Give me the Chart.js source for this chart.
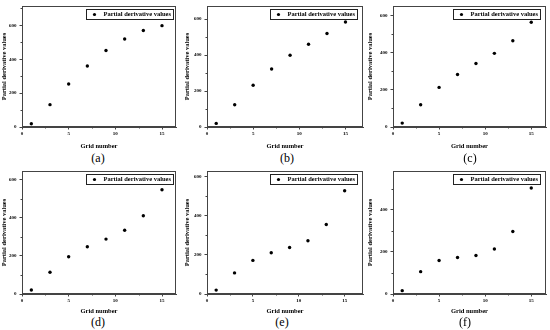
<!DOCTYPE html>
<html>
<head>
<meta charset="utf-8">
<script src="https://cdn.jsdelivr.net/npm/chart.js@4.4.0/dist/chart.umd.min.js"></script>
<style>
  body { margin: 0; background: #fff; }
  #wrap { position: relative; width: 550px; height: 330px; overflow: hidden; }
  canvas { position: absolute; }
  .cap { position: absolute; width: 40px; margin-left: -20px; text-align: center;
         font-family: "Liberation Serif", serif; font-size: 12px; line-height: 12px; color: #000; }
</style>
</head>
<body>
<div id="wrap"></div>
<script>
// Data
const gridNumbers = [1, 3, 5, 7, 9, 11, 13, 15];
const valuesA = [19, 132, 254, 360, 451, 519, 569, 598];
const valuesB = [20, 124, 232, 323, 399, 460, 520, 584];
const valuesC = [21, 120, 214, 284, 343, 398, 466, 566];
const valuesD = [21, 114, 195, 248, 288, 334, 410, 547];
const valuesE = [20, 108, 172, 211, 238, 273, 356, 529];
const valuesF = [16, 106, 159, 173, 183, 214, 297, 503];
const xTickValues = [0, 5, 10, 15];
const yTickValues = [0, 200, 400, 600];
const yTickValuesF = [0, 200, 400];
const captions = ['(a)', '(b)', '(c)', '(d)', '(e)', '(f)'];
const seriesLabel = 'Partial derivative values';
const xTitle = 'Grid number';
const yTitle = 'Partial derivative values';

// Panel layout (canvas placement and axis ranges)
const panels = [
    { data: valuesA, yTicks: yTickValues,  left: 0,   top: 0,   width: 180, yAxisW: 22, right: 176, xMax: 16.5, yMax: 714, legGap: 3, capX: 98,  capY: 152 },
    { data: valuesB, yTicks: yTickValues,  left: 183, top: 0,   width: 184, yAxisW: 24, right: 182, xMax: 16.9, yMax: 673, legGap: 6, capX: 287, capY: 152 },
    { data: valuesC, yTicks: yTickValues,  left: 366, top: 0,   width: 184, yAxisW: 27, right: 182, xMax: 16.6, yMax: 654, legGap: 6, capX: 470, capY: 152 },
    { data: valuesD, yTicks: yTickValues,  left: 0,   top: 165, width: 180, yAxisW: 22, right: 176, xMax: 16.5, yMax: 645, legGap: 3, capX: 98,  capY: 316 },
    { data: valuesE, yTicks: yTickValues,  left: 183, top: 165, width: 184, yAxisW: 24, right: 181, xMax: 17.0, yMax: 630, legGap: 6, capX: 282, capY: 316 },
    { data: valuesF, yTicks: yTickValuesF, left: 366, top: 165, width: 184, yAxisW: 27, right: 182, xMax: 16.6, yMax: 584, legGap: 6, capX: 465, capY: 316 }
];

const axisColor = '#444';
const serif = '"Liberation Serif", "Times New Roman", serif';

// Frame around the plot, minor ticks and the boxed legend in the top right corner
const framePlugin = {
    id: 'frame',
    afterDraw(chart, args, opts) {
        const ctx = chart.ctx;
        const a = chart.chartArea;
        ctx.save();
        ctx.strokeStyle = axisColor;
        ctx.lineWidth = 1;
        ctx.strokeRect(a.left + 0.5, a.top + 0.5, a.right - a.left - 1, a.bottom - a.top - 1);

        // minor ticks
        const xs = chart.scales.x, ys = chart.scales.y;
        ctx.beginPath();
        for (let v = 2.5; v < xs.max; v += 5) {
            const px = Math.round(xs.getPixelForValue(v)) + 0.5;
            ctx.moveTo(px, a.bottom);
            ctx.lineTo(px, a.bottom + 1.5);
        }
        for (let v = 100; v < ys.max; v += 200) {
            const py = Math.round(ys.getPixelForValue(v)) + 0.5;
            ctx.moveTo(a.left, py);
            ctx.lineTo(a.left - 1.5, py);
        }
        ctx.stroke();

        // legend
        const ds = chart.data.datasets[0];
        ctx.font = 'bold 6.5px ' + serif;
        const tw = ctx.measureText(ds.label).width;
        const boxRight = a.right - opts.gap;
        const boxTop = a.top + 3;
        const boxH = 10;
        const textLeft = boxRight - 2 - tw;
        const dotX = textLeft - 9;
        const boxLeft = dotX - 8;
        ctx.strokeStyle = '#222';
        ctx.lineWidth = 1;
        ctx.strokeRect(Math.round(boxLeft) + 0.5, boxTop + 0.5, Math.round(boxRight - boxLeft), boxH);
        ctx.fillStyle = '#000';
        ctx.beginPath();
        ctx.arc(dotX, boxTop + boxH / 2 + 0.5, 1.6, 0, Math.PI * 2);
        ctx.fill();
        ctx.textBaseline = 'middle';
        ctx.fillText(ds.label, textLeft, boxTop + boxH / 2 + 0.8);
        ctx.restore();
    }
};

const wrap = document.getElementById('wrap');

panels.forEach((p, i) => {
    const canvas = document.createElement('canvas');
    canvas.width = p.width;
    canvas.height = 150;
    canvas.style.left = p.left + 'px';
    canvas.style.top = p.top + 'px';
    wrap.appendChild(canvas);

    const cap = document.createElement('div');
    cap.className = 'cap';
    cap.textContent = captions[i];
    cap.style.left = p.capX + 'px';
    cap.style.top = p.capY + 'px';
    wrap.appendChild(cap);

    const xAxisH = p.top === 0 ? 23 : 21;

    new Chart(canvas, {
        type: 'scatter',
        data: {
            datasets: [{
                label: seriesLabel,
                data: gridNumbers.map((x, k) => ({ x: x, y: p.data[k] })),
                backgroundColor: '#000',
                borderColor: '#000',
                pointRadius: 1.7,
                pointBorderWidth: 0
            }]
        },
        options: {
            responsive: false,
            animation: false,
            events: [],
            layout: { padding: { top: 4, right: p.width - p.right, left: 0, bottom: 0 } },
            plugins: {
                tooltip: { enabled: false },
                legend: { display: false },
                frame: { gap: p.legGap }
            },
            scales: {
                x: {
                    type: 'linear',
                    min: 0,
                    max: p.xMax,
                    afterFit(s) { s.height = xAxisH; },
                    afterBuildTicks(s) { s.ticks = xTickValues.map(v => ({ value: v })); },
                    ticks: { color: '#000', padding: 1, maxRotation: 0, autoSkip: false,
                             font: { family: serif, size: 5, weight: 'bold' } },
                    grid: { drawOnChartArea: false, tickLength: 2.5, color: axisColor },
                    border: { color: axisColor },
                    title: { display: true, text: xTitle, color: '#000', padding: { top: 2, bottom: 0 },
                             font: { family: serif, size: 6.5, weight: 'bold' } }
                },
                y: {
                    type: 'linear',
                    min: 0,
                    max: p.yMax,
                    afterFit(s) { s.width = p.yAxisW; },
                    afterBuildTicks(s) { s.ticks = p.yTicks.map(v => ({ value: v })); },
                    ticks: { color: '#000', padding: 3, autoSkip: false,
                             font: { family: serif, size: 5, weight: 'bold' } },
                    grid: { drawOnChartArea: false, tickLength: 2.5, color: axisColor },
                    border: { color: axisColor },
                    title: { display: true, text: yTitle, color: '#000', padding: { top: 0, bottom: 1 },
                             font: { family: serif, size: 6.5, weight: 'bold' } }
                }
            }
        },
        plugins: [framePlugin]
    });
});
</script>
</body>
</html>
